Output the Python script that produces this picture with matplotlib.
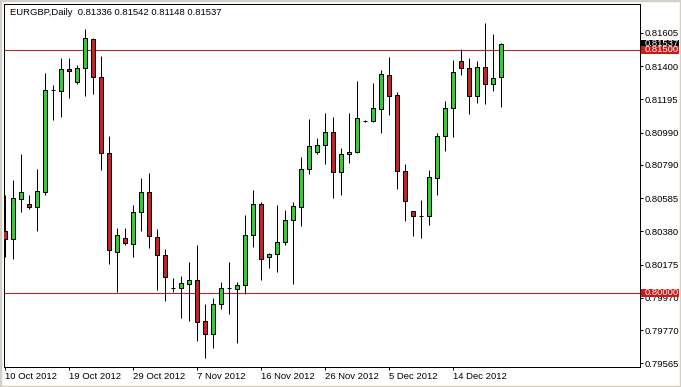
import numpy as np
import matplotlib
matplotlib.use("Agg")
import matplotlib.pyplot as plt
from matplotlib.patches import Rectangle
import matplotlib.transforms as mtransforms

# ---------------- data (EURGBP daily) ----------------
opens = [0.80382, 0.80331, 0.80578, 0.80549, 0.80532, 0.80625, 0.81251, 0.81249, 0.81383, 0.81304,
         0.81387, 0.81566, 0.81331, 0.80862, 0.80254, 0.80337, 0.80304, 0.80498, 0.80621, 0.80343,
         0.80234, 0.80032, 0.80032, 0.80057, 0.80078, 0.79826, 0.79744, 0.79930, 0.80028, 0.80026,
         0.80047, 0.80356, 0.80547, 0.80223, 0.80238, 0.80314, 0.80448, 0.80532, 0.80763, 0.80868,
         0.80911, 0.80995, 0.80745, 0.80856, 0.80868, 0.81062, 0.81062, 0.81138, 0.81344, 0.81220,
         0.80751, 0.80508, 0.80477, 0.80477, 0.80711, 0.80967, 0.81140, 0.81430, 0.81387, 0.81214,
         0.81393, 0.81288, 0.81336]
highs = [0.80604, 0.80697, 0.80858, 0.80604, 0.80765, 0.81356, 0.81284, 0.81449, 0.81449, 0.81407,
         0.81630, 0.81572, 0.81463, 0.80969, 0.80403, 0.80403, 0.80543, 0.80708, 0.80739, 0.80393,
         0.80269, 0.80090, 0.80104, 0.80189, 0.80296, 0.79930, 0.79967, 0.80065, 0.80189, 0.80069,
         0.80481, 0.80635, 0.80563, 0.80245, 0.80543, 0.80512, 0.80563, 0.80837, 0.81072, 0.80955,
         0.81109, 0.81084, 0.80893, 0.81109, 0.81309, 0.81068, 0.81294, 0.81377, 0.81455, 0.81239,
         0.80794, 0.80508, 0.80574, 0.80759, 0.80989, 0.81185, 0.81438, 0.81506, 0.81449, 0.81432,
         0.81665, 0.81597, 0.81542]
lows = [0.80223, 0.80209, 0.80501, 0.80516, 0.80382, 0.80604, 0.81068, 0.81088, 0.81205, 0.81290,
        0.81218, 0.81228, 0.80759, 0.80180, 0.80007, 0.80296, 0.80223, 0.80382, 0.80275, 0.80018,
        0.79952, 0.80007, 0.79847, 0.79828, 0.79705, 0.79596, 0.79661, 0.79900, 0.79870, 0.79689,
        0.79995, 0.80285, 0.80080, 0.80156, 0.80131, 0.80296, 0.80053, 0.80415, 0.80732, 0.80856,
        0.80798, 0.80584, 0.80604, 0.80804, 0.80862, 0.81055, 0.81057, 0.80989, 0.81099, 0.80642,
        0.80444, 0.80353, 0.80341, 0.80419, 0.80604, 0.80876, 0.80965, 0.81346, 0.81105, 0.81171,
        0.81165, 0.81247, 0.81148]
closes = [0.80331, 0.80584, 0.80621, 0.80532, 0.80627, 0.81251, 0.81251, 0.81381, 0.81368, 0.81387,
          0.81572, 0.81331, 0.80862, 0.80263, 0.80356, 0.80310, 0.80501, 0.80621, 0.80349, 0.80234,
          0.80096, 0.80032, 0.80059, 0.80078, 0.79822, 0.79744, 0.79930, 0.80028, 0.80028, 0.80047,
          0.80356, 0.80547, 0.80207, 0.80240, 0.80312, 0.80448, 0.80535, 0.80763, 0.80905, 0.80911,
          0.80995, 0.80745, 0.80856, 0.80870, 0.81078, 0.81062, 0.81140, 0.81350, 0.81214, 0.80751,
          0.80569, 0.80473, 0.80477, 0.80714, 0.80967, 0.81140, 0.81366, 0.81387, 0.81214, 0.81393,
          0.81288, 0.81325, 0.81537]

date_tick_bars = [0, 8, 16, 24, 32, 40, 48, 56]
date_tick_labels = ["10 Oct 2012", "19 Oct 2012", "29 Oct 2012", "7 Nov 2012",
                    "16 Nov 2012", "26 Nov 2012", "5 Dec 2012", "14 Dec 2012"]
price_ticks = [0.81605, 0.81400, 0.81195, 0.80990, 0.80790, 0.80585,
               0.80380, 0.80175, 0.79970, 0.79770, 0.79565]
h_levels = [0.81500, 0.80000]
last_price = 0.81537
title_text = "EURGBP,Daily  0.81336 0.81542 0.81148 0.81537"

# ---------------- style ----------------
FONT = "Liberation Sans"
FS = 6.8
BULL = "#32cd32"
BEAR = "#cc1f1f"
LINE_RED = "#b8262b"
PX = 0.72  # one pixel in points at dpi 100

W, H = 681, 387
fig = plt.figure(figsize=(W / 100, H / 100), dpi=100)
fig.patch.set_facecolor("white")
ax = fig.add_axes([4 / W, 20 / H, 636 / W, 363 / H])
ax.set_facecolor("white")

n = len(opens)
x = np.arange(n)
o = np.array(opens); c = np.array(closes); hi = np.array(highs); lo = np.array(lows)

# wicks
ax.vlines(x, lo, hi, color="black", linewidth=PX, zorder=2)
# bodies
bottoms = np.minimum(o, c)
heights = np.abs(c - o)
colors = [BULL if cc >= oo else BEAR for oo, cc in zip(o, c)]
ax.bar(x, heights, bottom=bottoms, width=0.55, color=colors,
       edgecolor="black", linewidth=PX, zorder=3)

# horizontal levels
for lv in h_levels:
    ax.axhline(lv, color=LINE_RED, linewidth=PX * 1.1, zorder=1)

ax.set_xlim(-0.16, 79.34)
ax.set_ylim(0.79542, 0.81784)

# axes styling
for sp in ax.spines.values():
    sp.set_linewidth(PX)
    sp.set_color("black")

ax.yaxis.tick_right()
ax.set_yticks(price_ticks)
ax.set_yticklabels([f"{v:.5f}" for v in price_ticks])
ax.tick_params(axis="y", direction="out", length=2.2, width=PX, pad=1.4,
               labelsize=FS, colors="black")
ax.set_xticks(date_tick_bars)
ax.set_xticklabels(date_tick_labels)
ax.tick_params(axis="x", direction="out", length=2.2, width=PX, pad=1.5,
               labelsize=FS, colors="black")
for lab in ax.get_xticklabels() + ax.get_yticklabels():
    lab.set_fontfamily(FONT)
for lab in ax.get_xticklabels():
    lab.set_horizontalalignment("left")

# price boxes on the right axis
blend = mtransforms.blended_transform_factory(ax.transAxes, ax.transData)
ppx = (0.81784 - 0.79542) / 363.0
box_w = 38 / 636.0
box_h = 8.5 * ppx
x0 = 1.0 + 1 / 636.0

def price_box(val, face, zo):
    ax.add_patch(Rectangle((x0, val - box_h / 2), box_w, box_h, transform=blend,
                           facecolor=face, edgecolor="none", clip_on=False, zorder=zo))
    ax.text(x0 + 3.5 / 636.0, val, f"{val:.5f}", transform=blend, color="white",
            fontsize=FS, fontfamily=FONT, va="center", ha="left",
            clip_on=False, zorder=zo + 0.5)

price_box(last_price, "black", 10)
price_box(h_levels[0], "#d01a1a", 12)
price_box(h_levels[1], "#d01a1a", 12)

# title
fig.text(9.5 / W, 1 - 12.7 / H, title_text, fontsize=FS, fontfamily=FONT,
         color="black", ha="left", va="center")

# window border
fig.patches.append(Rectangle((0, 0), 1, 1, transform=fig.transFigure, fill=False,
                             edgecolor="#d4d0c8", linewidth=2.5, zorder=20))

fig.savefig("out.png", dpi=100, facecolor="white")
